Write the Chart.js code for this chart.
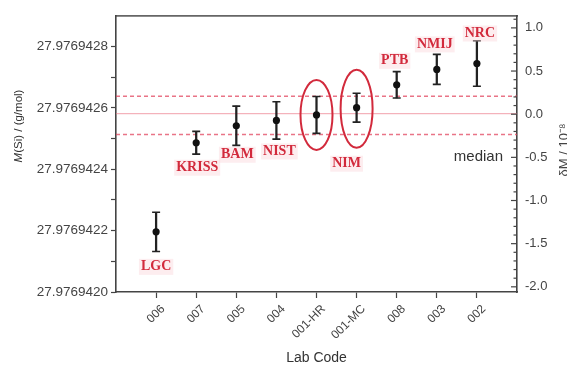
<!DOCTYPE html>
<html>
<head>
<meta charset="utf-8">
<script src="https://cdn.jsdelivr.net/npm/chart.js@4/dist/chart.umd.min.js"></script>
<style>
  html, body { margin: 0; padding: 0; background: #fff; }
  #wrap { width: 567px; height: 370px; position: relative; }
  canvas { display: block; }
</style>
</head>
<body>
<div id="wrap"><canvas id="c" width="567" height="370" style="width:567px;height:370px"></canvas></div>
<script>
// ---------- DATA ----------
const categories = ['006', '007', '005', '004', '001-HR', '001-MC', '008', '003', '002'];
const labNames = ['LGC', 'KRISS', 'BAM', 'NIST', '', 'NIM', 'PTB', 'NMIJ', 'NRC'];
const massValues = [27.9769421960, 27.9769424864, 27.9769425418, 27.9769425590, 27.9769425770,
                    27.9769426006, 27.9769426752, 27.9769427254, 27.9769427446];
const massErrors = [6.4e-8, 3.7e-8, 6.4e-8, 6.1e-8, 6.0e-8, 4.7e-8, 4.3e-8, 4.9e-8, 7.4e-8];
const medianValue = 27.9769425810;
const bandUpper = 27.9769426378;
const bandLower = 27.9769425130;
const leftTicks = [27.9769420, 27.9769421, 27.9769422, 27.9769423, 27.9769424,
                   27.9769425, 27.9769426, 27.9769427, 27.9769428];
const leftTickLabels = ['27.9769420', '', '27.9769422', '', '27.9769424', '', '27.9769426', '', '27.9769428'];
const rightMajorTicks = [-2.0, -1.5, -1.0, -0.5, 0.0, 0.5, 1.0];
const circledCodes = ['001-HR', '001-MC'];

// ---------- STYLE / LAYOUT ----------
const AXIS = '#444';
const RED = '#d22a3c';
const plotLeft = 116, plotRight = 517, plotTop = 10, plotBottom = 292, W = 567, H = 370;
const SANS = '"Liberation Sans", Arial, sans-serif';

const xs = categories.map((c, i) => i + 1);

const refLine = (y, dash, color, width) => ({
  type: 'line',
  data: [{ x: 0, y: y }, { x: 10, y: y }],
  borderColor: color, borderWidth: width, borderDash: dash,
  pointRadius: 0, fill: false, order: 5, yAxisID: 'y', xAxisID: 'x'
});

// label offsets (pixels from the data point), keyed by label
const labelOffsets = {
  LGC: [0, 35], KRISS: [1, 25], BAM: [1, 29], NIST: [3, 31],
  NIM: [-10, 56], PTB: [-2, -24], NMIJ: [-2, -25], NRC: [3, -30]
};
const ellipseShape = { '001-HR': [16, 35, 0], '001-MC': [16, 39, 1] };

const decorPlugin = {
  id: 'decor',
  afterDraw(chart) {
    const ctx = chart.ctx;
    const x = chart.scales.x, y = chart.scales.y, y2 = chart.scales.y2;
    const ca = chart.chartArea;
    ctx.save();
    // inward ticks on right axis
    ctx.strokeStyle = AXIS; ctx.lineWidth = 1.2;
    for (let k = -20; k <= 11; k++) {
      const v = k / 10;
      const py = y2.getPixelForValue(v);
      const major = (k % 5 === 0);
      ctx.beginPath();
      ctx.moveTo(ca.right, py);
      ctx.lineTo(ca.right - (major ? 6 : 3.5), py);
      ctx.stroke();
    }
    // ellipses
    ctx.strokeStyle = RED; ctx.lineWidth = 2;
    circledCodes.forEach(code => {
      const i = categories.indexOf(code);
      const s = ellipseShape[code];
      const cx = x.getPixelForValue(xs[i]);
      const cy = y.getPixelForValue(massValues[i]) + s[2];
      ctx.beginPath();
      ctx.ellipse(cx, cy, s[0], s[1], 0, 0, Math.PI * 2);
      ctx.stroke();
    });
    // lab name labels
    ctx.font = 'bold 14px "Liberation Serif", "Times New Roman", serif';
    ctx.textAlign = 'center'; ctx.textBaseline = 'middle';
    labNames.forEach((name, i) => {
      if (!name) return;
      const off = labelOffsets[name];
      const px = x.getPixelForValue(xs[i]) + off[0];
      const py = y.getPixelForValue(massValues[i]) + off[1];
      const w = ctx.measureText(name).width;
      ctx.fillStyle = 'rgba(250,214,220,0.45)';
      ctx.fillRect(px - w / 2 - 2, py - 8, w + 4, 16);
      ctx.fillStyle = RED;
      ctx.fillText(name, px, py);
    });
    // median text
    ctx.font = '15px ' + SANS;
    ctx.fillStyle = '#333';
    ctx.textAlign = 'right';
    ctx.fillText('median', ca.right - 14, y2.getPixelForValue(-0.5));

    // left axis title: italic M + rest
    ctx.save();
    ctx.translate(19, 126);
    ctx.rotate(-Math.PI / 2);
    ctx.textAlign = 'left';
    const fI = 'italic 11.5px ' + SANS, fN = '11.5px ' + SANS;
    ctx.font = fI; const wM = ctx.measureText('M').width;
    ctx.font = fN; const wR = ctx.measureText('(Si) / (g/mol)').width;
    const x0 = -(wM + wR) / 2;
    ctx.fillStyle = '#333';
    ctx.font = fI; ctx.fillText('M', x0, 0);
    ctx.font = fN; ctx.fillText('(Si) / (g/mol)', x0 + wM, 0);
    ctx.restore();

    // right axis title (rotated, partly off-canvas)
    ctx.translate(564, 150);
    ctx.rotate(-Math.PI / 2);
    ctx.textAlign = 'center';
    ctx.font = '13px ' + SANS;
    ctx.fillStyle = '#444';
    ctx.fillText('δM / 10⁻⁸', 0, 0);
    ctx.restore();
  }
};

new Chart(document.getElementById('c'), {
  type: 'scatter',
  data: {
    datasets: [
      refLine(bandUpper, [4, 3], 'rgba(226,70,95,0.75)', 1.6),
      refLine(medianValue, [], 'rgba(236,120,135,0.7)', 1),
      refLine(bandLower, [4, 3], 'rgba(226,70,95,0.75)', 1.6),
      {
        type: 'bar',
        data: xs.map((xv, i) => ({ x: xv, y: [massValues[i] - massErrors[i], massValues[i] + massErrors[i]] })),
        backgroundColor: '#222', borderWidth: 0, barThickness: 1.6, grouped: false,
        order: 3, yAxisID: 'y', xAxisID: 'x'
      },
      {
        type: 'scatter',
        data: xs.flatMap((xv, i) => [{ x: xv, y: massValues[i] - massErrors[i] }, { x: xv, y: massValues[i] + massErrors[i] }]),
        pointStyle: 'line', pointRadius: 4, pointBorderWidth: 1.6, borderColor: '#222', backgroundColor: '#222',
        order: 2, yAxisID: 'y', xAxisID: 'x'
      },
      {
        type: 'scatter',
        data: xs.map((xv, i) => ({ x: xv, y: massValues[i] })),
        pointStyle: 'circle', pointRadius: 3.6, backgroundColor: '#111', borderColor: '#111', borderWidth: 0,
        order: 1, yAxisID: 'y', xAxisID: 'x'
      }
    ]
  },
  options: {
    responsive: false,
    animation: false,
    devicePixelRatio: 1,
    layout: { padding: 0 },
    plugins: { legend: { display: false }, tooltip: { enabled: false } },
    scales: {
      x: {
        type: 'linear', position: 'bottom', min: 0, max: 10, offset: false,
        afterBuildTicks: s => { s.ticks = xs.map(v => ({ value: v })); },
        afterFit: s => { s.height = H - plotBottom; },
        ticks: {
          autoSkip: false, maxRotation: 45, minRotation: 45, padding: 4, labelOffset: 7,
          color: '#444', font: { family: SANS, size: 12 },
          callback: v => categories[v - 1]
        },
        grid: { drawOnChartArea: false, offset: false, tickLength: 6, color: AXIS, tickWidth: 1.2 },
        border: { color: AXIS, width: 1.6 },
        title: { display: true, text: 'Lab Code', color: '#333',
                 font: { family: SANS, size: 14 }, padding: { top: 0, bottom: 3 } }
      },
      xTop: {
        type: 'linear', position: 'top', min: 0, max: 10, offset: false,
        afterFit: s => { s.height = plotTop; },
        ticks: { display: false },
        grid: { drawOnChartArea: false, drawTicks: false },
        border: { color: '#666', width: 1.8 }
      },
      y: {
        type: 'linear', position: 'left', min: 27.9769420, max: 27.97694290,
        afterBuildTicks: s => { s.ticks = leftTicks.map(v => ({ value: v })); },
        afterFit: s => { s.width = plotLeft; },
        ticks: {
          autoSkip: false, color: '#444', font: { family: SANS, size: 13.5 }, padding: 3,
          callback: (v, i) => leftTickLabels[i]
        },
        grid: { drawOnChartArea: false, tickLength: 5, color: AXIS, tickWidth: 1.2 },
        border: { color: AXIS, width: 1.6 },
        title: { display: false }
      },
      y2: {
        type: 'linear', position: 'right', min: -2.06, max: 1.14,
        afterBuildTicks: s => { s.ticks = rightMajorTicks.map(v => ({ value: v })); },
        afterFit: s => { s.width = W - plotRight; },
        ticks: {
          autoSkip: false, color: '#444', font: { family: SANS, size: 13 }, padding: 8,
          callback: v => v.toFixed(1)
        },
        grid: { drawOnChartArea: false, drawTicks: false },
        border: { color: AXIS, width: 1.6 }
      }
    }
  },
  plugins: [decorPlugin]
});
</script>
</body>
</html>
